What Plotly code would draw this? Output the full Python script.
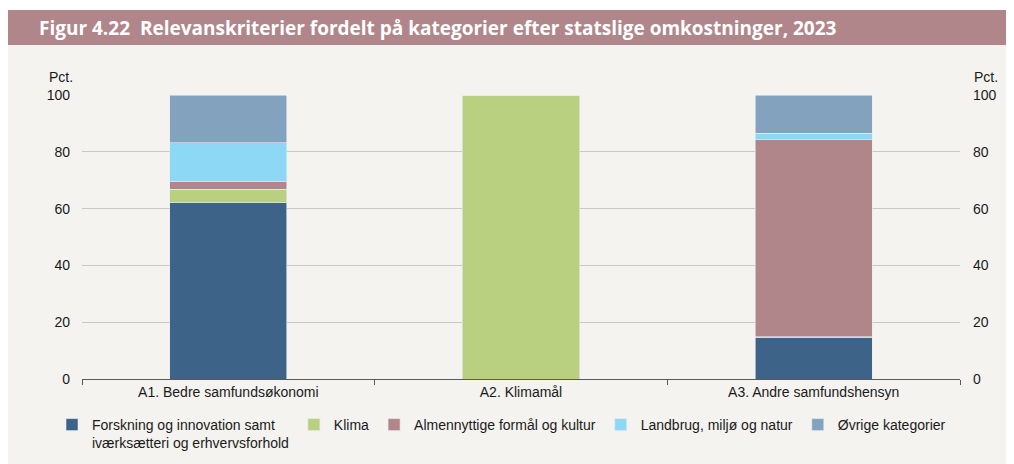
import plotly.graph_objects as go

categories = ["A1. Bedre samfundsøkonomi", "A2. Klimamål", "A3. Andre samfundshensyn"]
series_names = [
    "Forskning og innovation samt<br>iværksætteri og erhvervsforhold",
    "Klima",
    "Almennyttige formål og kultur",
    "Landbrug, miljø og natur",
    "Øvrige kategorier",
]
forskning = [62.0, 0, 14.5]
klima = [4.9, 100, 0.3]
almen = [2.8, 0, 69.4]
landbrug = [13.5, 0, 2.4]
ovrige = [16.8, 0, 13.4]
y_ticks = [0, 20, 40, 60, 80, 100]
title = "Figur 4.22  Relevanskriterier fordelt på kategorier efter statslige omkostninger, 2023"

colors = ["#3D6389", "#B8D07F", "#B0868B", "#8DD8F5", "#82A2BE"]
values = [forskning, klima, almen, landbrug, ovrige]

# page has an 8px body margin; work in reference coordinates and shift
OFF = 8
W, H = 1014 - OFF, 464 - OFF
L, R, T, B = 82 - OFF, 960 - OFF, 95 - OFF, 379 - OFF

def px(x):
    return (x - OFF - L) / (R - L)

def py(y):
    return (B - (y - OFF)) / (B - T)

fig = go.Figure()
for name, vals, col in zip(series_names, values, colors):
    fig.add_trace(go.Bar(
        x=categories, y=vals, name=name,
        marker=dict(color=col, line=dict(color="#E6ECF0", width=0.6)),
    ))

font = "Liberation Sans, Arial, sans-serif"
fig.update_layout(
    width=W, height=H,
    margin=dict(l=L, r=W - R, t=T, b=H - B, pad=0, autoexpand=False),
    barmode="stack", bargap=0.6,
    paper_bgcolor="white", plot_bgcolor="rgba(0,0,0,0)",
    font=dict(family=font, size=14, color="#1a1a1a"),
    showlegend=True,
    legend=dict(orientation="h", x=px(52), xanchor="left", y=py(409), yanchor="top",
                font=dict(size=14, family=font, color="#1a1a1a"), valign="top",
                bgcolor="rgba(0,0,0,0)", traceorder="normal", itemclick=False),
    xaxis=dict(showgrid=False, showline=True, linecolor="#595959", linewidth=1.2,
               ticks="outside", tickson="boundaries", ticklen=5, tickcolor="#595959",
               tickfont=dict(size=14), fixedrange=True),
    yaxis=dict(range=[0, 100], tickvals=y_ticks, showgrid=True, gridcolor="#C8C8C8",
               gridwidth=1, zeroline=False, showline=False, ticks="",
               ticklabelstandoff=11, tickfont=dict(size=14), fixedrange=True),
    yaxis2=dict(range=[0, 100], tickvals=y_ticks, overlaying="y", side="right",
                showgrid=False, zeroline=False, showline=False, ticks="",
                ticklabelstandoff=12, tickfont=dict(size=14), fixedrange=True),
    shapes=[
        dict(type="rect", xref="paper", yref="paper", x0=px(8), x1=px(1014),
             y0=py(464), y1=py(45), fillcolor="#F4F3EF", line=dict(width=0), layer="below"),
        dict(type="rect", xref="paper", yref="paper", x0=px(8), x1=px(1014),
             y0=py(45), y1=py(10), fillcolor="#B0868B", line=dict(width=0), layer="below"),
    ],
    annotations=[
        dict(text=title, xref="paper", yref="paper", x=px(37), y=py(28), xanchor="left",
             yanchor="middle", showarrow=False,
             font=dict(family="Open Sans, sans-serif", size=19, color="white", weight="bold")),
        dict(text="Pct.", xref="paper", yref="paper", x=px(61), y=py(77), xanchor="center",
             yanchor="middle", showarrow=False, font=dict(size=14)),
        dict(text="Pct.", xref="paper", yref="paper", x=px(986), y=py(77), xanchor="center",
             yanchor="middle", showarrow=False, font=dict(size=14)),
    ],
)
# invisible trace to anchor the right axis
fig.add_trace(go.Scatter(x=[categories[0]], y=[None], yaxis="y2", showlegend=False,
                         hoverinfo="skip"))

fig.write_html("out.html")
